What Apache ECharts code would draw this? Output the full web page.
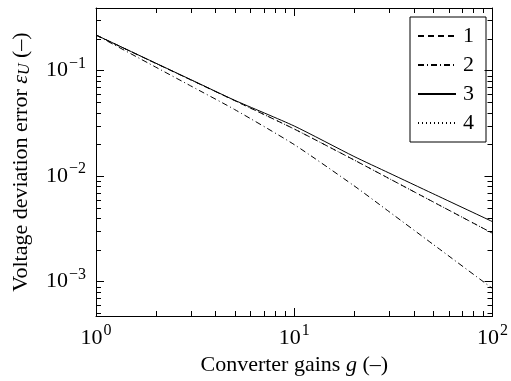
<!DOCTYPE html>
<html>
<head>
<meta charset="utf-8">
<script src="https://cdn.jsdelivr.net/npm/echarts@6/dist/echarts.min.js"></script>
<style>
html,body{margin:0;padding:0;background:#fff;}
#c{width:511px;height:381px;}
</style>
</head>
<body>
<div id="c"></div>
<script>
// ---- data ----
const gains = [1, 2, 3, 5, 10, 20, 30, 50, 100];
const err1 = [0.218, 0.1175, 0.082, 0.0521, 0.0280, 0.01427, 0.00953, 0.00573, 0.00288];
const err2 = [0.218, 0.1082, 0.0719, 0.0429, 0.01993, 0.00813, 0.00463, 0.00227, 0.000862];
const err3 = [0.218, 0.118, 0.0825, 0.0525, 0.0299, 0.0154, 0.01075, 0.00684, 0.00371];
const err4 = [0.218, 0.1175, 0.082, 0.0521, 0.0280, 0.01427, 0.00953, 0.00573, 0.00288];
const seriesNames = ['1', '2', '3', '4'];
const xMajorTicks = [1, 10, 100];
const yMajorTicks = [0.001, 0.01, 0.1];
const xMinorTicks = [2,3,4,5,6,7,8,9,20,30,40,50,60,70,80,90];
const yMinorTicks = [5e-4,6e-4,7e-4,8e-4,9e-4,2e-3,3e-3,4e-3,5e-3,6e-3,7e-3,8e-3,9e-3,0.02,0.03,0.04,0.05,0.06,0.07,0.08,0.09,0.2,0.3];
const xRange = [1, 100];
const yRange = [4.73e-4, 0.393];

const FONT = 'Liberation Serif';
const FS = 22;

function powLabel(list) {
  return function (v) {
    for (const t of list) {
      if (Math.abs(v - t) / t < 1e-6) {
        const e = Math.round(Math.log10(t));
        return '{b|10}{s|' + (e < 0 ? '\u2212' + (-e) : e) + '}';
      }
    }
    return '';
  };
}
const richPow = {
  b: {fontFamily: FONT, fontSize: FS, color: '#000', verticalAlign: 'bottom', lineHeight: 22},
  s: {fontFamily: FONT, fontSize: 16, color: '#000', verticalAlign: 'bottom', lineHeight: 16, padding: [0, 0, 10, 1]}
};

function pairs(xs, ys) { return xs.map((x, i) => [x, ys[i]]); }

const lineStyles = [
  {type: [6, 4], width: 1},
  {type: [6, 3, 1, 3], width: 1},
  {type: 'solid', width: 1},
  {type: [1, 3], width: 1}
];
const datasets = [err1, err2, err3, err4];

const frameAxis = {
  axisLine: {show: true, onZero: false, lineStyle: {color: '#000', width: 1}},
  axisTick: {show: true, inside: true, length: 8, lineStyle: {color: '#000', width: 1}},
  splitLine: {show: false},
  minorTick: {show: false}
};

const chart = echarts.init(document.getElementById('c'), null, {renderer: 'canvas'});
const option = {
  animation: false,
  backgroundColor: '#fff',
  grid: {left: 96, right: 13, top: 8, bottom: 65},
  legend: {
    data: seriesNames,
    orient: 'vertical',
    right: 25,
    top: 17,
    itemWidth: 38,
    itemHeight: 20,
    itemGap: 7,
    padding: [8, 12, 8, 7],
    borderColor: '#000',
    borderWidth: 1,
    borderRadius: 0,
    itemStyle: {color: 'rgba(0,0,0,0)', borderColor: 'rgba(0,0,0,0)', borderWidth: 0, opacity: 0},
    textStyle: {fontFamily: FONT, fontSize: FS, color: '#000', padding: [0, 0, 0, 2]},
    inactiveColor: '#000'
  },
  xAxis: [
    Object.assign({}, frameAxis, {
      type: 'log', logBase: 10, min: xRange[0], max: xRange[1], position: 'bottom',
      name: 'Converter gains {i|g} (\u2013)', nameLocation: 'middle', nameGap: 38,
      nameTextStyle: {fontFamily: FONT, fontSize: FS, color: '#000',
        rich: {i: {fontFamily: FONT, fontStyle: 'italic', fontSize: FS, color: '#000'}}},
      axisLabel: {show: true, margin: 11, formatter: powLabel(xMajorTicks), rich: richPow, showMinLabel: true, showMaxLabel: true}
    }),
    Object.assign({}, frameAxis, {
      type: 'log', logBase: 10, min: xRange[0], max: xRange[1], position: 'top',
      axisLabel: {show: false}
    })
  ],
  yAxis: [
    Object.assign({}, frameAxis, {
      type: 'log', logBase: 10, min: yRange[0], max: yRange[1], position: 'left',
      name: 'Voltage deviation error {e|\u03B5}{u|U} (\u2013)', nameLocation: 'middle', nameGap: 63,
      nameRotate: 90,
      nameTextStyle: {fontFamily: FONT, fontSize: FS, color: '#000',
        rich: {
          e: {fontFamily: FONT, fontStyle: 'italic', fontSize: FS, color: '#000'},
          u: {fontFamily: FONT, fontStyle: 'italic', fontSize: 16, color: '#000', padding: [7, 0, 0, 0]}
        }},
      axisLabel: {show: true, margin: 10, formatter: powLabel(yMajorTicks), rich: richPow}
    }),
    Object.assign({}, frameAxis, {
      type: 'log', logBase: 10, min: yRange[0], max: yRange[1], position: 'right',
      axisLabel: {show: false}
    })
  ],
  series: datasets.map((d, i) => ({
    name: seriesNames[i],
    type: 'line',
    xAxisIndex: 0, yAxisIndex: 0,
    data: pairs(gains, d),
    smooth: 0.2,
    symbol: 'none',
    showSymbol: false,
    color: '#000',
    lineStyle: Object.assign({color: '#000'}, lineStyles[i]),
    z: 3 + i
  })).concat([
    {
      type: 'custom', name: 'xminor', xAxisIndex: 0, yAxisIndex: 0, silent: true,
      data: xMinorTicks.map(v => [v, 0.01]),
      renderItem: function (params, api) {
        const cs = params.coordSys;
        const x = Math.round(api.coord([api.value(0), api.value(1)])[0]) + 0.5;
        const bot = cs.y + cs.height, top = cs.y;
        const st = {stroke: '#000', lineWidth: 1};
        return {type: 'group', children: [
          {type: 'line', shape: {x1: x, y1: bot, x2: x, y2: bot - 5}, style: st},
          {type: 'line', shape: {x1: x, y1: top, x2: x, y2: top + 5}, style: st}
        ]};
      }
    },
    {
      type: 'custom', name: 'yminor', xAxisIndex: 0, yAxisIndex: 0, silent: true,
      data: yMinorTicks.map(v => [10, v]),
      renderItem: function (params, api) {
        const cs = params.coordSys;
        const y = Math.round(api.coord([api.value(0), api.value(1)])[1]) + 0.5;
        const l = cs.x, r = cs.x + cs.width;
        const st = {stroke: '#000', lineWidth: 1};
        return {type: 'group', children: [
          {type: 'line', shape: {x1: l, y1: y, x2: l + 5, y2: y}, style: st},
          {type: 'line', shape: {x1: r, y1: y, x2: r - 5, y2: y}, style: st}
        ]};
      }
    }
  ])
};
chart.setOption(option);
</script>
</body>
</html>
